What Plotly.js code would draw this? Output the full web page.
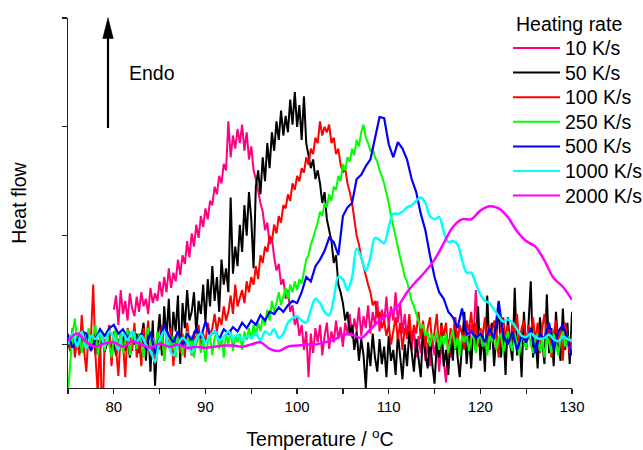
<!DOCTYPE html>
<html>
<head>
<meta charset="utf-8">
<script src="https://cdn.plot.ly/plotly-3.0.1.min.js"></script>
<style>
html,body{margin:0;padding:0;background:#fff;}
#chart{width:643px;height:450px;}
</style>
</head>
<body>
<div id="chart"></div>
<script>
// ---- data ----
const legendTitle = "Heating rate";
const seriesNames = ["10 K/s", "50 K/s", "100 K/s", "250 K/s", "500 K/s", "1000 K/s", "2000 K/s"];
const seriesColors = ["#FF0080", "#000000", "#FF0000", "#00FF00", "#0000FF", "#00FFFF", "#FF00FF"];

// sampling of each measured curve: first temperature (°C) and step (K)
const rate10Start = 80, rate10Step = 0.25;
const rate50Start = 75, rate50Step = 0.25;
const rate100Start = 75, rate100Step = 0.25;
const rate250Start = 75, rate250Step = 0.25;
const rate500Start = 75, rate500Step = 0.5;
const rate1000Start = 75, rate1000Step = 0.5;
const rate2000Start = 75, rate2000Step = 1.0;

const heatFlow10 = [
 0.32,0.45,0.18,0.50,0.28, 0.40,0.22,0.47,0.33,0.26, 0.44,0.30,0.48,0.35,0.42,
 0.28,0.52,0.38,0.47,0.40, 0.58,0.44,0.62,0.48,0.70, 0.52,0.66,0.58,0.78,0.64,
 0.82,0.74,0.95,0.80,1.02, 0.90,1.10,0.98,1.18,1.08, 1.25,1.15,1.32,1.28,1.45,
 1.38,1.55,1.48,1.66,1.60, 2.05,1.72,1.92,1.80,1.98, 1.85,2.02,1.78,1.95,1.70,
 1.82,1.60,1.52,1.40,1.30, 1.22,1.05,1.12,0.92,0.98, 0.80,0.68,0.74,0.55,0.60,
 0.42,0.50,0.30,0.36,0.18, 0.25,0.08,0.18,-0.05,0.12, -0.30,0.10,-0.08,0.15,0.02,
 0.18,-0.10,0.08,0.20,-0.04, 0.12,0.02,0.22,0.05,0.16, -0.02,0.20,0.10,0.28,0.06,
 0.24,0.12,0.34,0.08,0.26, 0.15,0.36,0.10,0.30,0.18, 0.40,0.12,0.32,0.20,0.44,
 0.16,0.35,0.22,0.48,0.20, 0.38,0.10,0.28,0.05,0.20, -0.05,0.15,-0.12,0.08,-0.08,
 0.10,-0.15,0.02,-0.20,0.05, -0.10,0.08,-0.25,0.00,-0.15, -0.35,0.05,-0.12,0.10,-0.05,
 0.12,-0.08,0.06,-0.02,0.15, 0.00,0.18,0.05,0.50,0.10, 0.02
];

const heatFlow50 = [
 0.02,-0.06,0.08,-0.03,0.05, -0.08,0.04,0.10,-0.05,0.03, -0.02,0.07,-0.09,0.04,-0.04,
 0.06,-0.07,0.02,0.09,-0.05, 0.03,-0.10,0.05,-0.02,0.08, -0.06,0.04,-0.12,0.06,0.00,
 0.10,-0.08,0.05,0.20,-0.15, 0.15,-0.25,0.22,-0.38,0.05, 0.28,-0.10,0.35,0.05,0.42,
 -0.05,0.30,0.12,0.45,-0.18, 0.38,0.15,0.50,0.22,0.30, 0.48,0.10,0.40,0.28,0.55,
 0.20,0.60,0.35,0.72,0.40, 0.62,0.30,0.78,0.55,0.70, 0.48,1.35,0.65,0.90,0.72,
 1.10,0.85,1.28,1.00,1.40, 1.15,0.70,1.45,1.60,1.38, 1.72,1.50,1.85,1.62,1.95,
 1.78,2.05,1.88,2.15,1.92, 2.10,1.95,2.25,2.02,2.32, 2.00,2.20,1.88,2.28,1.85,
 1.75,1.62,1.70,1.52,1.60, 1.48,1.30,1.40,1.15,1.05, 0.95,0.75,0.82,0.55,0.48,
 0.38,0.22,0.30,0.10,0.18, -0.05,0.12,-0.15,0.05,-0.10, -0.40,0.02,-0.20,0.10,-0.12,
 -0.25,0.05,-0.18,-0.02,-0.30, 0.08,-0.15,-0.05,-0.28,0.10, -0.12,-0.32,0.00,-0.20,0.12,
 -0.10,-0.25,0.05,-0.15,-0.30, 0.15,-0.08,-0.22,0.06,-0.18, -0.36,0.02,-0.12,0.20,-0.20,
 -0.05,-0.28,0.10,-0.15,0.25, -0.10,-0.30,0.05,0.30,-0.18, 0.08,-0.22,0.18,-0.05,0.35,
 -0.15,0.10,-0.25,0.45,-0.05, 0.20,-0.20,0.05,0.38,-0.12, 0.15,-0.28,0.25,0.00,-0.15,
 0.52,-0.10,0.12,-0.30,0.30, -0.05,0.18,0.58,-0.12,0.10, -0.22,0.25,0.02,-0.18,0.46,
 -0.08,0.15,-0.20,0.30,0.00, -0.15,0.33,-0.05,0.20,-0.18, 0.30
];

const heatFlow100 = [
 0.10,-0.06,0.15,-0.12,0.05, -0.10,0.27,-0.05,-0.25,0.12, 0.05,0.55,-0.10,-0.46,0.10,
 -0.80,0.05,0.00,0.18,-0.20, 0.12,-0.05,-0.29,0.10,0.02, -0.30,0.15,0.08,-0.06,0.20,
 -0.12,0.05,-0.20,0.15,0.00, 0.22,-0.10,0.05,-0.18,0.10, -0.05,0.18,-0.15,0.08,-0.02,
 0.15,-0.20,0.06,0.12,-0.08, 0.10,-0.12,0.20,0.02,-0.10, 0.12,0.00,0.18,-0.05,0.10,
 0.02,0.20,0.08,0.15,0.28, 0.12,0.25,0.18,0.35,0.22, 0.30,0.45,0.28,0.55,0.35,
 0.42,0.50,0.38,0.58,0.48, 0.62,0.55,0.72,0.60,0.82, 0.75,0.90,0.85,1.00,0.95,
 1.10,1.02,1.18,1.12,1.28, 1.25,1.38,1.32,1.48,1.42, 1.55,1.50,1.62,1.58,1.72,
 1.65,1.80,1.75,1.90,1.85, 2.05,1.92,2.00,1.95,2.02, 1.85,1.90,1.75,1.80,1.65,
 1.58,1.62,1.48,1.40,1.30, 1.15,1.00,0.92,0.80,0.72, 0.62,0.55,0.48,0.36,0.40,
 0.25,0.30,0.15,0.22,0.08, 0.18,0.00,0.12,0.25,0.05, 0.20,-0.05,0.15,0.08,0.28,
 0.02,0.18,0.10,0.30,0.05, 0.22,-0.02,0.15,0.25,0.00, 0.12,0.28,-0.05,0.18,0.08,
 0.20,-0.10,0.15,0.05,0.25, 0.00,0.18,0.10,-0.05,0.22, 0.12,0.30,0.05,0.20,-0.02,
 0.15,0.08,0.25,-0.05,0.18, 0.02,0.22,0.10,-0.12,0.15, 0.25,0.05,0.18,-0.02,0.20,
 0.08,0.28,0.00,0.15,0.22, -0.05,0.18,0.10,0.25,0.02, 0.20,-0.08,0.15,0.28,0.05,
 0.18,-0.12,0.10,0.22,0.00, 0.15,-0.15,0.20,0.05,-0.08, 0.10
];

const heatFlow250 = [
 -0.45,-0.13,0.10,0.24,0.02, 0.12,-0.08,0.05,-0.02,0.15, -0.05,0.08,0.18,-0.10,0.05,
 0.12,-0.06,0.10,0.00,-0.12, 0.08,0.15,-0.05,0.10,-0.08, 0.05,0.14,-0.10,0.06,0.12,
 -0.04,0.10,0.02,-0.12,0.08, 0.15,-0.02,0.06,-0.10,0.12, 0.00,0.10,-0.15,0.05,0.12,
 -0.06,0.08,-0.12,0.10,0.02, -0.10,0.06,0.12,-0.05,0.08, -0.12,0.04,0.10,-0.08,0.05,
 -0.16,0.02,0.08,-0.10,0.06, 0.12,-0.04,0.08,-0.12,0.10, 0.00,0.14,-0.06,0.08,0.02,
 0.10,-0.05,0.12,0.04,0.15, 0.05,0.18,0.08,0.20,0.12, 0.25,0.18,0.32,0.22,0.40,
 0.30,0.38,0.48,0.36,0.44, 0.52,0.42,0.55,0.48,0.58, 0.50,0.60,0.56,0.68,0.78,
 0.82,0.92,0.98,1.05,1.12, 1.22,1.18,1.30,1.26,1.38, 1.32,1.45,1.42,1.55,1.50,
 1.66,1.60,1.72,1.68,1.80, 1.74,1.88,1.82,1.95,2.02, 1.90,1.85,1.78,1.80,1.72,
 1.68,1.60,1.55,1.48,1.40, 1.30,1.18,1.08,0.98,0.88, 0.80,0.72,0.62,0.58,0.48,
 0.40,0.35,0.28,0.22,0.15, 0.18,0.08,0.12,-0.02,0.10, 0.02,0.12,-0.05,0.08,0.00,
 0.10,-0.08,0.05,0.14,-0.04, 0.06,-0.10,0.08,0.02,0.12, -0.06,0.05,0.10,-0.08,0.04,
 0.12,-0.02,0.06,-0.10,0.08, 0.02,0.15,-0.05,0.06,0.10, -0.08,0.04,0.12,0.00,-0.06,
 0.10,0.02,-0.10,0.08,0.04, -0.04,0.12,0.00,-0.08,0.06, 0.10,-0.06,0.04,-0.12,0.08,
 0.02,-0.08,0.10,0.00,-0.10, 0.06,0.12,-0.02,0.08,0.04, 0.05
];

const heatFlow500 = [
 0.09,-0.03,0.04,0.12,0.10, -0.06,0.05,0.14,0.08,0.15, 0.18,0.10,0.14,0.06,0.12,
 0.02,0.10,-0.04,0.12,-0.09, 0.05,0.18,0.08,0.02,0.12, -0.02,0.10,0.04,0.15,0.06,
 0.21,0.08,0.12,0.05,0.14, 0.10,0.16,0.12,0.20,0.15, 0.22,0.18,0.27,0.22,0.30,
 0.28,0.34,0.30,0.36,0.40, 0.38,0.48,0.62,0.58,0.72, 0.78,0.86,0.98,0.94,0.82,
 1.18,1.26,1.30,1.52,1.56, 1.64,1.70,1.88,2.09,2.08, 1.84,1.72,1.86,1.80,1.70,
 1.52,1.40,1.20,1.05,0.82, 0.62,0.48,0.42,0.30,0.25, 0.15,0.33,0.09,0.12,0.06,
 0.10,0.02,0.15,0.05,0.40, 0.08,0.00,0.12,-0.05,0.08, 0.02,0.15,-0.08,0.10,0.05,
 0.20,-0.05,0.12,0.18,0.06, -0.10
];

const heatFlow1000 = [
 0.00,0.10,-0.02,0.12,-0.04, 0.08,0.05,0.10,-0.02,0.12, 0.06,-0.05,0.10,0.04,0.12,
 0.02,0.08,0.00,-0.06,-0.16, 0.04,0.12,-0.02,-0.10,0.00, 0.06,0.02,-0.08,0.05,0.10,
 0.02,0.08,0.12,0.04,0.07, 0.12,0.06,0.09,0.04,0.08, 0.06,0.10,0.04,0.12,0.09,
 0.14,0.06,0.10,0.20,0.24, 0.26,0.22,0.20,0.32,0.42, 0.38,0.30,0.27,0.42,0.62,
 0.60,0.50,0.62,0.88,0.80, 0.68,0.80,0.98,0.96,0.93, 1.08,1.20,1.20,1.22,1.26,
 1.28,1.32,1.35,1.30,1.18, 1.15,1.17,1.04,0.94,0.95, 0.92,0.78,0.66,0.66,0.56,
 0.46,0.40,0.38,0.32,0.26, 0.21,0.23,0.20,0.14,0.08, 0.07,0.10,0.07,0.05,0.06,
 0.09,0.05,0.03,0.07,0.05, 0.03
];

const heatFlow2000 = [
 0.03,0.10,0.02,-0.02,0.01, 0.02,-0.02,0.03,0.00,-0.03, 0.01,-0.02,0.00,-0.03,-0.02,
 -0.03,-0.02,-0.01,-0.01,-0.02, 0.00,0.02,-0.04,-0.06,-0.02, -0.01,0.00,0.00,0.02,0.04,
 0.09,0.09,0.06,0.14,0.22, 0.28,0.35,0.48,0.58,0.67, 0.78,0.93,1.08,1.15,1.15,
 1.23,1.27,1.25,1.17,1.04, 0.95,0.90,0.77,0.61,0.53, 0.41
];

const xTickVals = [80, 90, 100, 110, 120, 130];
const xTickText = ["80", "90", "100", "110", "120", "130"];
const yTickVals = [0, 1, 2, 3];

// ---- build traces ----
function grid(start, step, n) {
  const out = [];
  for (let i = 0; i < n; i++) out.push(+(start + i * step).toFixed(3));
  return out;
}
const curves = [
  {y: heatFlow10, s: rate10Start, d: rate10Step, w: 2, shape: "linear"},
  {y: heatFlow50, s: rate50Start, d: rate50Step, w: 2, shape: "linear"},
  {y: heatFlow100, s: rate100Start, d: rate100Step, w: 2, shape: "linear"},
  {y: heatFlow250, s: rate250Start, d: rate250Step, w: 2, shape: "linear"},
  {y: heatFlow500, s: rate500Start, d: rate500Step, w: 2.2, shape: "linear"},
  {y: heatFlow1000, s: rate1000Start, d: rate1000Step, w: 2.5, shape: "spline"},
  {y: heatFlow2000, s: rate2000Start, d: rate2000Step, w: 2.5, shape: "spline"}
];
const traces = curves.map((c, i) => ({
  type: "scatter",
  mode: "lines",
  name: seriesNames[i],
  x: grid(c.s, c.d, c.y.length),
  y: c.y,
  line: {color: seriesColors[i], width: c.w, shape: c.shape},
  showlegend: false
}));

const X0 = 68, X1 = 572, Y0 = 18, Y1 = 388;
function px(x) { return (x - X0) / (X1 - X0); }
function py(y) { return (Y1 - y) / (Y1 - Y0); }
const TXT = 19.5;

// legend drawn as paper-positioned marks
const legendShapes = seriesNames.map((n, i) => ({
  type: "line", xref: "paper", yref: "paper",
  x0: px(513), x1: px(560), y0: py(48 + 24.6 * i), y1: py(48 + 24.6 * i),
  line: {color: seriesColors[i], width: 2}
}));
const legendTexts = seriesNames.map((n, i) => ({
  text: n, xref: "paper", yref: "paper",
  x: px(563), y: py(48 + 24.6 * i), xanchor: "left", yanchor: "middle",
  showarrow: false, font: {size: TXT, color: "#000"}
}));

const layout = {
  width: 643, height: 450,
  margin: {l: X0, r: 643 - X1, t: Y0, b: 450 - Y1, autoexpand: false},
  paper_bgcolor: "#ffffff",
  plot_bgcolor: "#ffffff",
  font: {family: "Liberation Sans, Arial, sans-serif", color: "#000"},
  showlegend: false,
  xaxis: {
    range: [75, 130],
    showgrid: false, zeroline: false,
    showline: true, linecolor: "#222", linewidth: 1.3,
    ticks: "outside", ticklen: 5, tickwidth: 1.3, tickcolor: "#222",
    tickmode: "array", tickvals: xTickVals, ticktext: xTickText,
    minor: {tick0: 75, dtick: 5, ticks: "outside", ticklen: 5, tickwidth: 1.3, tickcolor: "#222", showgrid: false},
    tickfont: {size: 15, color: "#000"},
    title: {text: "Temperature / <sup>o</sup>C", font: {size: TXT, color: "#000"}, standoff: 19}
  },
  yaxis: {
    range: [-0.4, 3],
    showgrid: false, zeroline: false,
    showline: true, linecolor: "#222", linewidth: 1.3,
    ticks: "outside", ticklen: 5, tickwidth: 1.3, tickcolor: "#222",
    tickmode: "array", tickvals: yTickVals,
    showticklabels: false,
    title: {text: "Heat flow", font: {size: TXT, color: "#000"}, standoff: 30}
  },
  shapes: [
    {type: "line", xref: "paper", yref: "paper",
     x0: px(108), x1: px(108), y0: py(128), y1: py(36),
     line: {color: "#000", width: 2.2}},
    {type: "path", xref: "paper", yref: "paper",
     path: "M " + px(108) + " " + py(17.5) + " L " + px(102.7) + " " + py(38.5) +
           " L " + px(113.3) + " " + py(38.5) + " Z",
     fillcolor: "#000", line: {color: "#000", width: 0.5}}
  ].concat(legendShapes),
  annotations: [
    {text: "Endo", xref: "paper", yref: "paper", x: px(127), y: py(73),
     xanchor: "left", yanchor: "middle", showarrow: false,
     font: {size: TXT, color: "#000"}},
    {text: legendTitle, xref: "paper", yref: "paper", x: px(514), y: py(24),
     xanchor: "left", yanchor: "middle", showarrow: false,
     font: {size: TXT, color: "#000"}}
  ].concat(legendTexts)
};

Plotly.newPlot("chart", traces, layout, {staticPlot: true, displayModeBar: false});
</script>
</body>
</html>
